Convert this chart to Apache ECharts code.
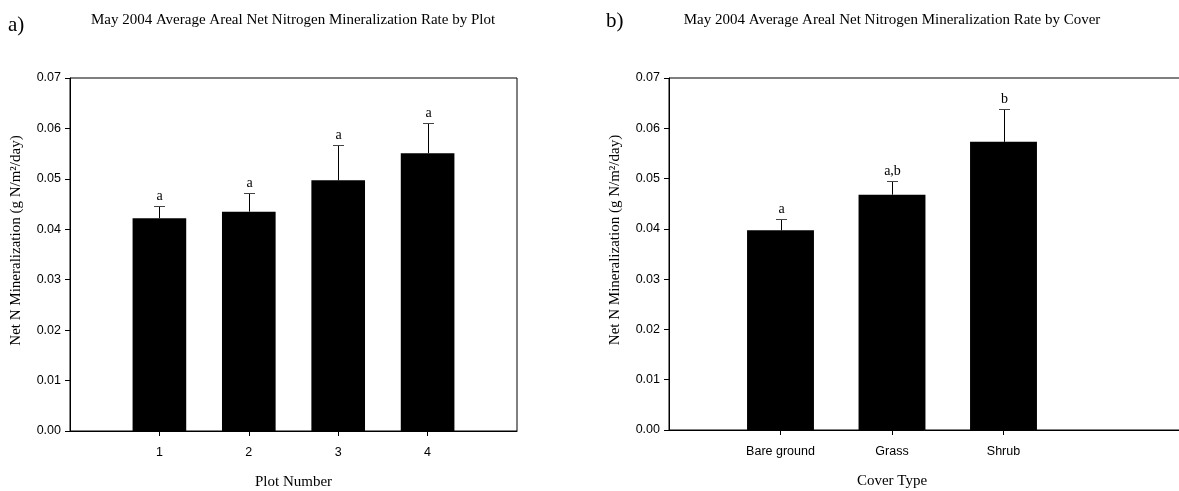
<!DOCTYPE html>
<html>
<head>
<meta charset="utf-8">
<script src="https://cdn.jsdelivr.net/npm/echarts@6/dist/echarts.min.js"></script>
<style>html,body{margin:0;padding:0;background:#fff;}#c{width:1179px;height:491px;}</style>
</head>
<body>
<div id="c"></div>
<script>
// ---- data ----
const categoriesA = ['1', '2', '3', '4'];
const meansA = [0.0422, 0.0435, 0.0497, 0.0551];
const errorsA = [0.0024, 0.0036, 0.0071, 0.0059];
const lettersA = ['a', 'a', 'a', 'a'];

const categoriesB = ['Bare ground', 'Grass', 'Shrub'];
const meansB = [0.0397, 0.0468, 0.0573];
const errorsB = [0.0022, 0.0027, 0.0066];
const lettersB = ['a', 'a,b', 'b'];

const yTicks = [0, 0.01, 0.02, 0.03, 0.04, 0.05, 0.06, 0.07];

// ---- build ----
const padA = [''].concat(categoriesA, ['']);
const padB = [''].concat(categoriesB, ['', '']);
const barA = padA.map((c, i) => (i >= 1 && i <= categoriesA.length) ? meansA[i - 1] : null);
const barB = padB.map((c, i) => (i >= 1 && i <= categoriesB.length) ? meansB[i - 1] : null);
const errDataA = meansA.map((m, i) => [i + 1, m, errorsA[i]]);
const errDataB = meansB.map((m, i) => [i + 1, m, errorsB[i]]);

const SERIF = '"Liberation Serif", "Times New Roman", serif';
const SANS = '"Liberation Sans", Arial, sans-serif';

function errRenderer(letters) {
  return function (params, api) {
    const x = api.value(0), m = api.value(1), e = api.value(2);
    const p0 = api.coord([x, m]);
    const p1 = api.coord([x, m + e]);
    const cx = Math.round(p0[0]) + 0.5;
    const ty = Math.round(p1[1]) + 0.5;
    return {
      type: 'group',
      children: [
        { type: 'line', shape: { x1: cx, y1: p0[1], x2: cx, y2: ty }, style: { stroke: '#000', lineWidth: 1 } },
        { type: 'line', shape: { x1: cx - 5.5, y1: ty, x2: cx + 5.5, y2: ty }, style: { stroke: '#444', lineWidth: 1 } },
        { type: 'text', x: cx, y: ty - 3, style: { text: letters[params.dataIndex], textAlign: 'center', textVerticalAlign: 'bottom', font: '14px ' + SERIF, fill: '#000' } }
      ]
    };
  };
}

function xAxis(gridIndex, data, name, namePad) {
  return {
    gridIndex: gridIndex, type: 'category', data: data, boundaryGap: false,
    name: name, nameLocation: 'middle', nameGap: 44,
    nameTextStyle: { fontFamily: SERIF, fontSize: 15, color: '#000', padding: namePad },
    axisLine: { lineStyle: { color: '#000', width: 1 } },
    axisTick: { show: true, inside: false, length: 5, interval: (i, v) => v !== '', lineStyle: { color: '#000' } },
    axisLabel: { interval: 0, margin: 15, fontFamily: SANS, fontSize: 12.5, color: '#000' },
    splitLine: { show: false }
  };
}
function yAxis(gridIndex, gap) {
  return {
    gridIndex: gridIndex, type: 'value', min: yTicks[0], max: yTicks[yTicks.length - 1], interval: 0.01,
    name: 'Net N Mineralization (g N/m²/day)', nameLocation: 'middle', nameRotate: 90, nameGap: gap,
    nameTextStyle: { fontFamily: SERIF, fontSize: 15, color: '#000', padding: [0, 0, 0, 28] },
    axisLine: { show: true, lineStyle: { color: '#000', width: 1 } },
    axisTick: { show: true, inside: false, length: 5, lineStyle: { color: '#000' } },
    axisLabel: { margin: 9, fontFamily: SANS, fontSize: 12.5, color: '#000', formatter: v => v.toFixed(2) },
    splitLine: { show: false }
  };
}

const chart = echarts.init(document.getElementById('c'), null, { renderer: 'canvas' });
chart.setOption({
  animation: false,
  backgroundColor: '#fff',
  grid: [
    { left: 70, top: 78, width: 447, height: 353, show: true, borderColor: '#000', borderWidth: 1, containLabel: false, outerBoundsMode: 'none' },
    { left: 669, top: 78, width: 557.5, height: 352, show: true, borderColor: '#000', borderWidth: 1, containLabel: false, outerBoundsMode: 'none' }
  ],
  xAxis: [xAxis(0, padA, 'Plot Number', [0, 0, 0, 0]), xAxis(1, padB, 'Cover Type', [0, 111.5, 0, 0])],
  yAxis: [yAxis(0, 46), yAxis(1, 46)],
  graphic: [
    { type: 'text', x: 8, y: 25, style: { text: 'a)', font: '21px ' + SERIF, fill: '#000', textVerticalAlign: 'middle' } },
    { type: 'text', x: 606, y: 21, style: { text: 'b)', font: '21px ' + SERIF, fill: '#000', textVerticalAlign: 'middle' } },
    { type: 'text', x: 293, y: 20, style: { text: 'May 2004 Average Areal Net Nitrogen Mineralization Rate by Plot', textAlign: 'center', textVerticalAlign: 'middle', font: '15px ' + SERIF, fill: '#000' } },
    { type: 'text', x: 892, y: 20, style: { text: 'May 2004 Average Areal Net Nitrogen Mineralization Rate by Cover', textAlign: 'center', textVerticalAlign: 'middle', font: '15px ' + SERIF, fill: '#000' } }
  ],
  series: [
    { type: 'bar', xAxisIndex: 0, yAxisIndex: 0, data: barA, barWidth: '60%', itemStyle: { color: '#000' } },
    { type: 'bar', xAxisIndex: 1, yAxisIndex: 1, data: barB, barWidth: '60%', itemStyle: { color: '#000' } },
    { type: 'custom', xAxisIndex: 0, yAxisIndex: 0, data: errDataA, renderItem: errRenderer(lettersA), clip: false, z: 5 },
    { type: 'custom', xAxisIndex: 1, yAxisIndex: 1, data: errDataB, renderItem: errRenderer(lettersB), clip: false, z: 5 }
  ]
});
</script>
</body>
</html>
